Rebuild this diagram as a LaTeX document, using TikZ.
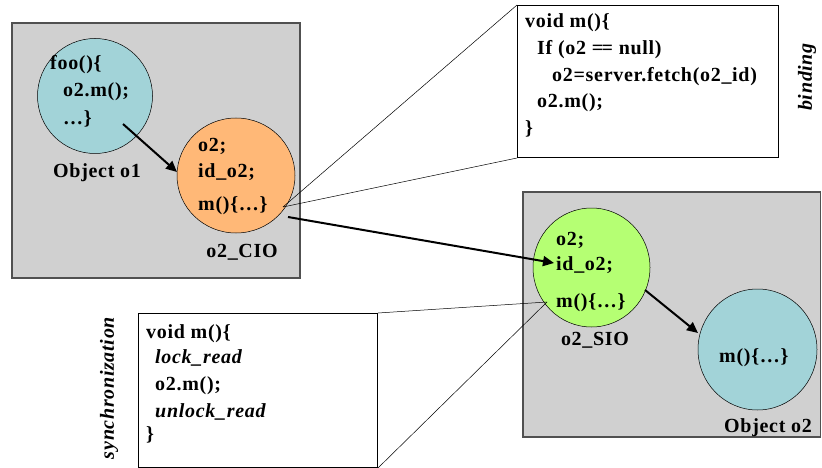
\documentclass[tikz,border=0pt]{standalone}
\usepackage{fontspec}
\setmainfont{Liberation Serif}[LetterSpace=3.5]
\usetikzlibrary{shapes.geometric,arrows.meta}
\definecolor{boxgray}{HTML}{D0D0D0}
\definecolor{edgegray}{HTML}{505050}
\definecolor{objcyan}{HTML}{A2D3D8}
\definecolor{cioorange}{HTML}{FFB877}
\definecolor{siogreen}{HTML}{B5FF73}
\newcommand{\codefont}{\fontsize{20}{24}\selectfont\bfseries}
\tikzset{
  code/.style={anchor=base west, inner sep=0pt, font=\codefont},
  label/.style={anchor=base, inner sep=0pt, font=\codefont},
  side/.style={inner sep=0pt, font=\codefont\itshape, rotate=90},
  region/.style={draw=edgegray, line width=1.2pt, fill=boxgray},
  obj/.style={ellipse, draw=black, line width=0.5pt, inner sep=0pt},
  codebox/.style={draw=black, line width=1pt, fill=white},
  thin link/.style={draw=black, line width=0.5pt},
  call/.style={draw=black, line width=2pt, -{Triangle[length=11pt,width=10pt]}}
}
\begin{document}
\begin{tikzpicture}[x=1pt,y=-1pt]
\useasboundingbox (0,0) rectangle (822,468);
% regions
\path[region] (12,23) rectangle (300,278);
\path[region] (523,192) rectangle (820.5,437);
% objects
\node[obj, fill=objcyan, minimum width=115pt, minimum height=115pt] (o1) at (95,96) {};
\node[obj, fill=cioorange, minimum width=118pt, minimum height=115pt] (cio) at (236,175.5) {};
\node[obj, fill=siogreen, minimum width=117pt, minimum height=119pt] (sio) at (591.5,267.5) {};
\node[obj, fill=objcyan, minimum width=119pt, minimum height=121pt] (o2) at (757.5,349.5) {};
% code boxes
\node[codebox, anchor=north west, minimum width=261pt, minimum height=152pt, inner sep=0pt] (bind) at (517,5) {};
\node[codebox, anchor=north west, minimum width=239pt, minimum height=154pt, inner sep=0pt] (sync) at (138,313) {};
% link coordinates
\coordinate (cioM) at (283,207);
\coordinate (sioM) at (547,302);
\path[thin link] (cioM) -- (bind.north west);
\path[thin link] (cioM) -- (bind.south west);
\path[thin link] (sioM) -- (sync.north east);
\path[thin link] (sioM) -- (sync.south east);
% object o1 text
\node[code] (f1) at (50,70) {foo()\{};
\node[code] (f2) at (63,97) {o2.m();};
\node[code] (f3) at (63,125) {\dots\}};
\node[label] (lo1) at (97,178) {Object o1};
% cio text
\node[code] (c1) at (198,152) {o2;};
\node[code] (c2) at (198,178) {id\_o2;};
\node[code] (c3) at (198,210) {m()\{\dots\}};
\node[label] (lcio) at (242,257) {o2\_CIO};
% sio text
\node[code] (s1) at (556,245) {o2;};
\node[code] (s2) at (556,270) {id\_o2;};
\node[code] (s3) at (556,307) {m()\{\dots\}};
\node[label] (lsio) at (595,345) {o2\_SIO};
% object o2 text
\node[code] (m2) at (719,362) {m()\{\dots\}};
\node[label] (lo2) at (768,432) {Object o2};
% binding code
\node[code] (b1) at (525,28) {void m()\{};
\node[code] (b2) at (537,55) {If (o2 {=}\kern-1.5pt{=} null)};
\node[code] (b3) at (552,82) {o2=server.fetch(o2\_id)};
\node[code] (b4) at (537,108) {o2.m();};
\node[code] (b5) at (525,135) {\}};
\node[side] (lbind) at (807,77) {binding};
% sync code
\node[code] (y1) at (146,338) {void m()\{};
\node[code] (y2) at (155,363) {\itshape lock\_read};
\node[code] (y3) at (155,390) {o2.m();};
\node[code] (y4) at (155,417) {\itshape unlock\_read};
\node[code] (y5) at (146,440) {\}};
\node[side] (lsync) at (109,388) {synchronization};
% calls
\coordinate (a1s) at (123,124);
\coordinate (a1e) at (177,172);
\coordinate (a2s) at (288,217);
\coordinate (a2e) at (554,263);
\coordinate (a3s) at (645,290);
\coordinate (a3e) at (698,333);
\path[call] (a1s) -- (a1e);
\path[call] (a2s) -- (a2e);
\path[call] (a3s) -- (a3e);
\end{tikzpicture}
\end{document}
